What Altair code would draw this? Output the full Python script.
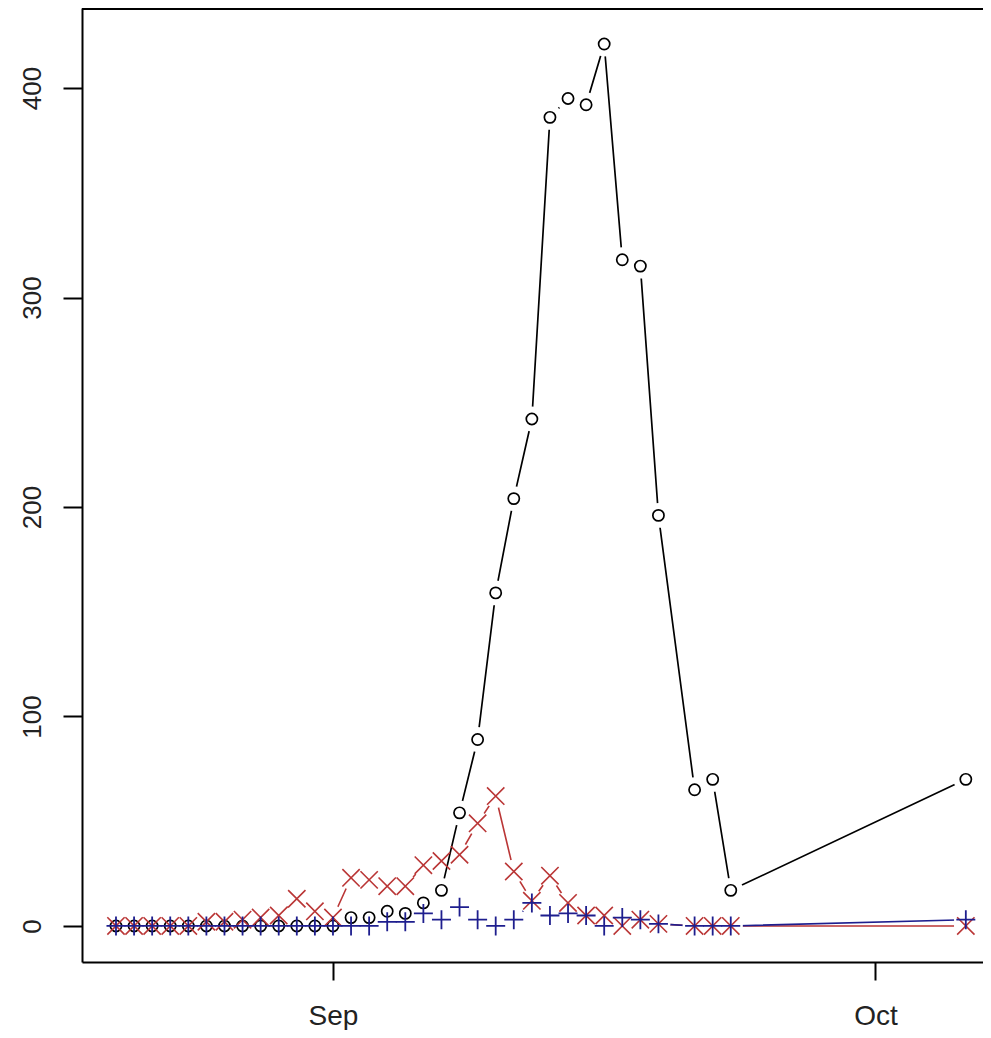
import altair as alt
import pandas as pd

# ---- data ----
dates = (
    [f"2013-08-{d:02d}" for d in range(20, 32)]
    + [f"2013-09-{d:02d}" for d in range(1, 20)]
    + ["2013-09-21", "2013-09-22", "2013-09-23", "2013-10-06"]
)
black_vals = [0, 0, 0, 0, 0, 0, 0, 0, 0, 0, 0, 0,
              0, 4, 4, 7, 6, 11, 17, 54, 89, 159, 204, 242, 386, 395, 392, 421, 318, 315, 196,
              65, 70, 17, 70]
red_vals = [0, 0, 0, 0, 0, 2, 2, 3, 4, 5, 13, 7,
            4, 23, 22, 19, 19, 29, 31, 34, 49, 62, 26, 12, 24, 11, 5, 5, 0, 3, 1,
            0, 0, 0, 0]
blue_vals = [0, 0, 0, 0, 0, 0, 0, 0, 0, 0, 0, 0,
             0, 0, 0, 2, 2, 6, 3, 9, 3, 0, 3, 11, 5, 6, 5, 0, 4, 3, 1,
             0, 0, 0, 3]
y_ticks = [0, 100, 200, 300, 400]

black = pd.DataFrame({"date": dates, "value": black_vals})
red = pd.DataFrame({"date": dates, "value": red_vals})
blue = pd.DataFrame({"date": dates, "value": blue_vals})

W, H = 901, 954
RED = "#BA3636"
BLUE = "#1E1E8E"
FONT = "Liberation Sans"

x_enc = alt.X(
    "date:T",
    scale=alt.Scale(
        type="utc",
        domain=[
            alt.DateTime(year=2013, month=8, date=18, hours=2, minutes=53, utc=True),
            alt.DateTime(year=2013, month=10, date=6, hours=22, minutes=48, utc=True),
        ],
    ),
    axis=alt.Axis(
        values=[
            alt.DateTime(year=2013, month=9, date=1, utc=True),
            alt.DateTime(year=2013, month=10, date=1, utc=True),
        ],
        labelExpr="utcFormat(datum.value, '%b')",
        title=None,
        grid=False,
        tickSize=18,
        labelPadding=22,
        labelFontSize=28,
    ),
)
y_enc = alt.Y(
    "value:Q",
    scale=alt.Scale(domain=[-17.2, 438.2], nice=False, zero=False),
    axis=alt.Axis(
        values=y_ticks,
        title=None,
        grid=False,
        labelAngle=270,
        labelAlign="center",
        labelBaseline="bottom",
        tickSize=19,
        labelPadding=18,
        labelFontSize=26,
    ),
)

x_path = "M-1,-1L1,1M-1,1L1,-1"
plus_path = "M-1,0L1,0M0,-1L0,1"


def mask(df, size):
    return alt.Chart(df).mark_point(
        shape="circle", filled=True, color="white", opacity=1, size=size
    ).encode(x=x_enc, y=y_enc)


b_line = alt.Chart(black).mark_line(color="black", strokeWidth=1.7).encode(x=x_enc, y=y_enc)
b_pts = alt.Chart(black).mark_point(shape="circle", filled=False, color="black", strokeWidth=1.7, size=125, opacity=1).encode(x=x_enc, y=y_enc)

r_line = alt.Chart(red).mark_line(color=RED, strokeWidth=1.6).encode(x=x_enc, y=y_enc)
r_pts = alt.Chart(red).mark_point(shape=x_path, filled=False, color=RED, strokeWidth=1.6, size=300, opacity=1).encode(x=x_enc, y=y_enc)

u_line = alt.Chart(blue).mark_line(color=BLUE, strokeWidth=1.6).encode(x=x_enc, y=y_enc)
u_pts = alt.Chart(blue).mark_point(shape=plus_path, filled=False, color=BLUE, strokeWidth=1.8, size=360, opacity=1).encode(x=x_enc, y=y_enc)

top_border = alt.Chart(pd.DataFrame({"k": [0]})).mark_rule(color="black", strokeWidth=2).encode(
    x=alt.value(0), x2=alt.value(W), y=alt.value(1)
)

chart = (
    alt.layer(
        r_line, u_line, mask(red, 560), mask(blue, 560),
        b_line, mask(black, 620), b_pts,
        r_pts, u_pts, top_border,
    )
    .properties(
        width=W,
        height=H,
        autosize=alt.AutoSizeParams(type="none"),
        padding={"left": 74, "top": 0, "right": 0, "bottom": 68},
        background="white",
    )
    .configure_view(stroke=None)
    .configure_axis(
        domainColor="black",
        domainWidth=2,
        tickColor="black",
        tickWidth=2,
        labelFont=FONT,
        labelColor="#222222",
        labelOverlap=False,
        labelFlush=False,
    )
)

chart.save("out.html", embed_options={"renderer": "svg", "actions": False})
